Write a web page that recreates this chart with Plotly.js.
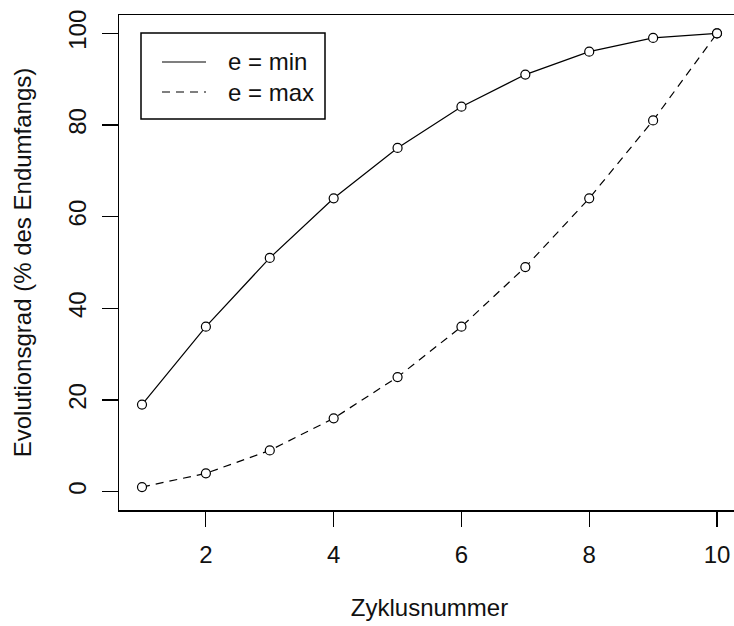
<!DOCTYPE html>
<html>
<head>
<meta charset="utf-8">
<script src="https://cdn.plot.ly/plotly-3.0.1.min.js"></script>
<style>
html,body{margin:0;padding:0;overflow:hidden;background:#fff;}
#chart{width:750px;height:626px;}
</style>
</head>
<body>
<div id="chart"></div>
<script>
var zyklus = [1,2,3,4,5,6,7,8,9,10];
var eMin = [19,36,51,64,75,84,91,96,99,100];
var eMax = [1,4,9,16,25,36,49,64,81,100];
var seriesNames = ["e = min","e = max"];
var xTicks = [2,4,6,8,10];
var yTicks = [0,20,40,60,80,100];

var W = 750, H = 626;
var mL = 119, mR = 10, mT = 15, mB = 116;
var pw = W - mL - mR, ph = H - mT - mB;
function px(x){ return (x - mL)/pw; }
function py(y){ return (H - mB - y)/ph; }

var font = {family:"Liberation Sans, Arial, sans-serif", size:24, color:"#111"};
var dashPat = "8px,6px";

var traces = [
  {x:zyklus, y:eMin, mode:"lines+markers", name:seriesNames[0],
   line:{color:"#000", width:1.2, dash:"solid"},
   marker:{symbol:"circle", size:9, color:"#fff", line:{color:"#000", width:1.2}}},
  {x:zyklus, y:eMax, mode:"lines+markers", name:seriesNames[1],
   line:{color:"#000", width:1.2, dash:dashPat},
   marker:{symbol:"circle", size:9, color:"#fff", line:{color:"#000", width:1.2}}}
];

var layout = {
  width:W, height:H,
  margin:{l:mL, r:mR, t:mT, b:mB, pad:0},
  paper_bgcolor:"#fff", plot_bgcolor:"#fff",
  showlegend:false,
  font:font,
  xaxis:{range:[0.64,10.36], tickvals:xTicks, ticktext:xTicks.map(String),
    showgrid:false, zeroline:false, showline:true, mirror:true, linecolor:"#000", linewidth:1.5,
    ticks:"outside", ticklen:15, tickwidth:1.2, tickcolor:"#000", ticklabelstandoff:8,
    tickfont:font, title:{text:"Zyklusnummer", font:font, standoff:32}},
  yaxis:{range:[-4,104], tickvals:yTicks, ticktext:yTicks.map(String), tickangle:-90,
    showgrid:false, zeroline:false, showline:true, mirror:true, linecolor:"#000", linewidth:1.5,
    ticks:"outside", ticklen:16, tickwidth:1.2, tickcolor:"#000", ticklabelstandoff:6,
    tickfont:font, title:{text:"Evolutionsgrad (% des Endumfangs)", font:font, standoff:25}},
  shapes:[
    {type:"rect", xref:"paper", yref:"paper", x0:px(141), x1:px(325), y0:py(119), y1:py(33),
     line:{color:"#000", width:1.5}, fillcolor:"rgba(0,0,0,0)"},
    {type:"line", xref:"paper", yref:"paper", x0:px(162), x1:px(206), y0:py(62), y1:py(62),
     line:{color:"#000", width:1.2}},
    {type:"line", xref:"paper", yref:"paper", x0:px(162), x1:px(206), y0:py(92), y1:py(92),
     line:{color:"#000", width:1.2, dash:dashPat}}
  ],
  annotations:[
    {xref:"paper", yref:"paper", x:px(226), y:py(62), xanchor:"left", yanchor:"middle",
     text:seriesNames[0], showarrow:false, font:font},
    {xref:"paper", yref:"paper", x:px(226), y:py(92), xanchor:"left", yanchor:"middle",
     text:seriesNames[1], showarrow:false, font:font}
  ]
};

Plotly.newPlot("chart", traces, layout, {staticPlot:true, displayModeBar:false});
</script>
</body>
</html>
